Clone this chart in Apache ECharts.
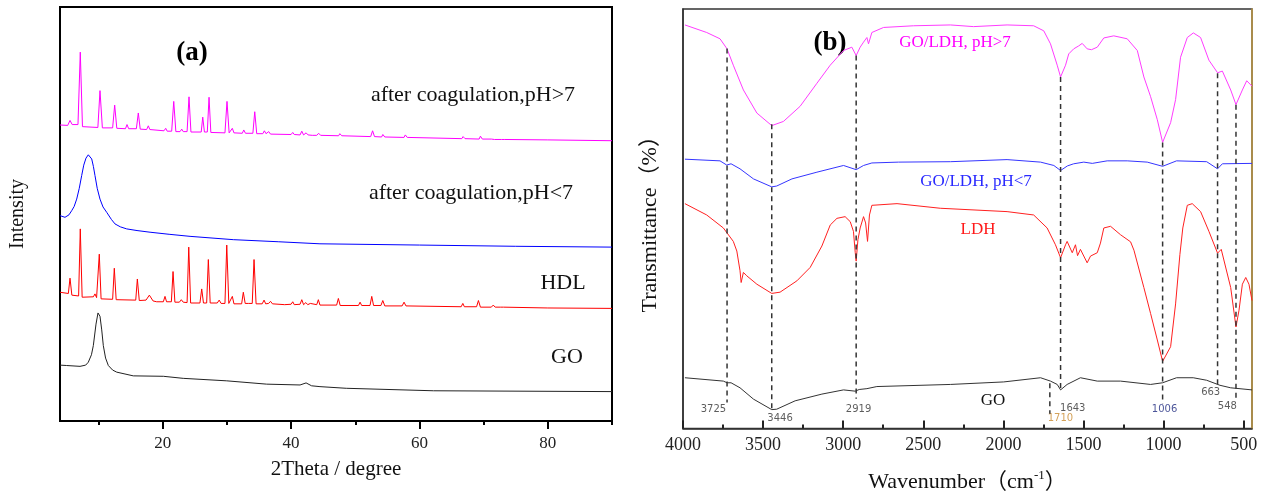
<!DOCTYPE html>
<html>
<head>
<meta charset="utf-8">
<script src="https://cdn.jsdelivr.net/npm/echarts@6.0.0/dist/echarts.min.js"></script>
<style>
  html, body { margin: 0; padding: 0; background: #fff; }
  #chart { width: 1268px; height: 498px; }
</style>
</head>
<body>
<div id="chart"></div>
<script>
// (a) XRD patterns: [2theta, intensity (arbitrary, stacked)]
const xrdPhHigh = [
  [4.0, 71.5], [5.2, 71.4], [5.56, 72.6], [5.9, 71.6], [6.8, 71.6], [7.16, 89.1], [7.5, 71.1],
  [9.9, 70.9], [10.23, 79.8], [10.6, 70.8], [12.2, 70.8], [12.52, 76.3], [12.85, 70.7],
  [14.2, 70.6], [14.44, 71.6], [14.7, 70.6], [15.9, 70.6], [16.2, 74.4], [16.5, 70.5],
  [17.5, 70.4], [17.76, 71.3], [18.0, 70.4], [20.2, 70.1], [20.47, 70.7], [20.7, 70.0],
  [21.4, 70.0], [21.72, 77.2], [22.05, 69.9], [22.7, 69.9], [22.97, 70.5], [23.2, 69.9],
  [23.8, 69.9], [24.1, 78.3], [24.4, 69.8], [26.0, 69.8], [26.24, 73.4], [26.5, 69.8],
  [26.95, 69.8], [27.22, 78.2], [27.5, 69.7], [29.7, 69.6], [30.02, 77.2], [30.35, 69.6],
  [30.6, 69.6], [30.85, 70.7], [31.1, 69.6], [32.4, 69.5], [32.63, 70.3], [32.9, 69.5],
  [34.05, 69.5], [34.34, 74.7], [34.65, 69.4], [35.6, 69.4], [35.84, 70.1], [36.1, 69.4],
  [36.3, 69.4], [36.52, 69.9], [36.8, 69.3], [40.0, 69.2], [40.26, 69.7], [40.5, 69.2],
  [41.4, 69.1], [41.67, 70.0], [41.95, 69.1], [42.34, 69.6], [42.65, 69.1], [42.96, 69.5],
  [43.3, 69.0], [44.0, 69.0], [44.3, 69.5], [44.6, 69.0], [47.4, 68.9], [47.6, 69.4],
  [47.9, 68.9], [52.4, 68.7], [52.7, 70.1], [53.0, 68.7], [54.1, 68.6], [54.3, 69.2],
  [54.6, 68.6], [57.6, 68.5], [57.8, 69.1], [58.1, 68.5], [66.6, 68.2], [66.8, 68.7],
  [67.1, 68.2], [69.3, 68.1], [69.5, 68.8], [69.8, 68.1], [71.2, 68.1], [71.4, 68.4],
  [71.7, 68.0], [72.8, 68.0], [73.0, 68.3], [73.3, 68.0], [80, 67.9], [90, 67.7]
];
const xrdPhLow = [
  [4.0, 49.6], [4.78, 49.2], [5.4, 49.8], [5.82, 50.8], [6.2, 51.8], [6.6, 53.6], [7.0, 56.2],
  [7.38, 59.3], [7.7, 61.8], [8.05, 63.5], [8.41, 64.3], [8.7, 63.9], [8.94, 63.3], [9.2, 61.5],
  [9.45, 59.3], [9.8, 56.2], [10.23, 53.6], [10.7, 51.7], [11.28, 50.4], [12.0, 48.7],
  [12.57, 47.6], [13.4, 46.9], [14.39, 46.4], [16, 46.0], [18.03, 45.6], [21, 45.1],
  [24.26, 44.6], [31.0, 43.8], [38, 43.3], [44.5, 42.8], [60, 42.5], [75, 42.2], [90, 42.0]
];
const xrdHdl = [
  [4.0, 31.1], [5.3, 30.8], [5.56, 34.5], [5.85, 30.4], [6.07, 30.3], [6.9, 30.2], [7.16, 46.4],
  [7.45, 29.9], [7.63, 29.9], [9.2, 30.0], [9.45, 30.7], [9.7, 29.8], [9.85, 29.6], [10.12, 40.3],
  [10.4, 29.5], [12.2, 29.4], [12.46, 36.9], [12.75, 29.3], [15.8, 29.2], [16.05, 34.3],
  [16.35, 29.1], [17.4, 29.2], [17.92, 30.4], [18.5, 29.0], [19.07, 28.8], [20.1, 28.8],
  [20.36, 30.1], [20.6, 28.8], [21.35, 28.8], [21.61, 36.1], [21.9, 28.7], [22.6, 28.7],
  [22.9, 29.3], [23.2, 28.7], [23.8, 28.6], [24.06, 42.0], [24.35, 28.5], [25.8, 28.5],
  [26.08, 31.9], [26.35, 28.5], [26.85, 28.5], [27.11, 39.0], [27.4, 28.5], [28.5, 28.5],
  [28.8, 29.2], [29.1, 28.4], [29.7, 28.4], [29.98, 42.5], [30.3, 28.4], [30.6, 28.4],
  [30.85, 30.1], [31.1, 28.3], [32.3, 28.3], [32.56, 31.1], [32.85, 28.4], [33.1, 28.8],
  [33.4, 28.4], [33.95, 28.4], [34.23, 39.0], [34.55, 28.3], [35.5, 28.3], [35.79, 29.2],
  [36.05, 28.3], [36.5, 28.4], [36.8, 28.9], [37.1, 28.3], [39.0, 28.1], [40.0, 28.2],
  [40.26, 28.8], [40.5, 28.1], [41.4, 28.2], [41.67, 29.3], [41.95, 28.1], [42.3, 28.6],
  [42.6, 28.1], [43.0, 28.4], [43.3, 28.1], [44.0, 28.1], [44.25, 29.3], [44.5, 28.0],
  [47.1, 28.0], [47.37, 29.6], [47.65, 27.9], [50.5, 27.9], [50.75, 28.7], [51.0, 27.9],
  [52.3, 27.9], [52.57, 30.1], [52.85, 27.9], [54.0, 27.9], [54.29, 29.1], [54.6, 27.8],
  [57.3, 27.8], [57.6, 28.7], [57.9, 27.8], [66.5, 27.6], [66.76, 28.4], [67.0, 27.6],
  [68.9, 27.6], [69.19, 29.1], [69.5, 27.5], [71.2, 27.5], [71.5, 28.0], [71.8, 27.5],
  [72.6, 27.5], [72.84, 27.9], [73.1, 27.5], [80, 27.3], [90, 27.2]
];
const xrdGo = [
  [4.0, 13.5], [5.04, 13.4], [7.12, 13.2], [8.0, 13.5], [8.41, 14.2], [8.9, 16.0], [9.19, 18.2],
  [9.61, 23.4], [9.92, 26.1], [10.23, 25.3], [10.5, 22.0], [10.75, 18.2], [11.1, 15.2],
  [11.53, 13.4], [12.2, 12.3], [12.84, 11.8], [15.42, 10.9], [20.1, 10.8], [23.2, 10.3],
  [29.98, 9.7], [36.2, 8.9], [41.4, 8.7], [42.34, 9.2], [43.2, 8.5], [44.5, 8.3], [48.6, 7.9],
  [62.2, 7.3], [90, 7.1]
];
const xrdMajorTicks = [20, 40, 60, 80];
const xrdMinorTicks = [10, 30, 50, 70, 90];

// (b) FTIR spectra: [wavenumber, transmittance (arbitrary, stacked)]
const irPhHigh = [
  [3988, 96.2], [3852, 94.4], [3769, 92.9], [3725, 90.5], [3686, 86.6], [3623, 80.7],
  [3539, 75.2], [3446, 72.2], [3373, 73.2], [3269, 76.8], [3164, 82.3], [3081, 86.6],
  [2998, 90.1], [2946, 90.9], [2919, 88.9], [2894, 90.9], [2873, 92.1], [2852, 93.2],
  [2842, 91.7], [2821, 94.4], [2748, 95.6], [2561, 96.0], [2331, 96.2], [2186, 95.8],
  [1977, 96.2], [1811, 96.0], [1748, 94.8], [1706, 91.7], [1664, 86.6], [1643, 83.8],
  [1612, 86.6], [1592, 89.3], [1561, 90.5], [1530, 91.2], [1508, 91.8], [1477, 90.5],
  [1450, 90.3], [1414, 90.9], [1373, 93.1], [1311, 93.6], [1227, 92.9], [1164, 90.1],
  [1123, 83.8], [1081, 79.1], [1039, 73.6], [1006, 68.2], [956, 72.9], [925, 78.4],
  [894, 88.5], [852, 93.2], [814, 94.3], [769, 93.2], [717, 87.8], [663, 84.8], [633, 85.2],
  [581, 80.7], [548, 77.2], [508, 80.7], [481, 82.9], [448, 81.6]
];
const irPhLow = [
  [3988, 64.2], [3769, 63.8], [3727, 62.8], [3700, 63.1], [3644, 61.9], [3560, 59.5],
  [3446, 57.6], [3415, 57.8], [3320, 59.5], [3164, 61.1], [2998, 62.7], [2919, 61.7],
  [2873, 62.7], [2821, 63.3], [2654, 63.5], [2331, 63.6], [1977, 64.1], [1768, 63.5],
  [1685, 62.7], [1643, 61.5], [1600, 62.6], [1561, 63.1], [1498, 63.5], [1445, 63.2],
  [1352, 63.8], [1227, 63.8], [1102, 63.5], [1006, 62.5], [919, 63.8], [731, 63.6],
  [663, 61.9], [633, 63.1], [448, 63.2]
];
const irLdh = [
  [3988, 53.6], [3852, 50.9], [3748, 47.8], [3686, 44.6], [3664, 42.3], [3644, 37.6],
  [3637, 34.8], [3623, 37.2], [3602, 36.4], [3539, 34.4], [3446, 32.2], [3394, 32.5],
  [3289, 35.2], [3206, 38.4], [3133, 43.5], [3081, 48.5], [3039, 50.1], [2988, 50.5],
  [2956, 49.3], [2936, 47.0], [2925, 42.0], [2919, 39.9], [2908, 45.0], [2894, 47.8],
  [2873, 50.5], [2860, 49.0], [2848, 44.6], [2836, 50.9], [2821, 53.2], [2664, 53.6],
  [2394, 52.5], [1977, 51.7], [1811, 50.9], [1727, 47.8], [1675, 43.8], [1643, 40.7],
  [1612, 43.8], [1602, 44.6], [1570, 41.9], [1550, 43.8], [1537, 41.2], [1519, 42.7],
  [1477, 39.5], [1456, 41.1], [1414, 41.9], [1394, 44.2], [1373, 47.8], [1331, 48.2],
  [1269, 46.2], [1206, 44.5], [1185, 42.5], [1123, 33.6], [1081, 27.4], [1039, 21.1],
  [1006, 16.0], [956, 19.5], [925, 29.7], [898, 41.5], [880, 47.8], [852, 53.2], [821, 53.6],
  [769, 51.7], [717, 47.0], [663, 41.8], [640, 42.7], [581, 33.6], [548, 24.2], [529, 28.2],
  [508, 34.4], [487, 36.0], [467, 34.4], [448, 30.5]
];
const irGo = [
  [3988, 12.1], [3748, 11.3], [3725, 10.9], [3700, 10.9], [3644, 9.7], [3560, 7.0],
  [3446, 4.5], [3415, 4.6], [3300, 6.6], [3133, 8.2], [2998, 9.2], [2925, 8.9], [2919, 8.5],
  [2900, 9.3], [2852, 9.5], [2790, 10.0], [2331, 10.5], [1998, 11.1], [1768, 12.1],
  [1706, 11.3], [1664, 10.5], [1643, 9.2], [1602, 10.5], [1519, 12.1], [1414, 11.3],
  [1269, 11.3], [1081, 10.5], [1006, 10.9], [919, 12.1], [815, 12.1], [731, 11.5],
  [648, 10.3], [581, 9.7], [448, 9.2]
];
const irMajorTicks = [4000, 3500, 3000, 2500, 2000, 1500, 1000, 500];
const irMinorTicks = [3750, 3250, 2750, 2250, 1750, 1250, 750];

// assigned bands: dashed guide lines and their labels
const bandWn = [3725, 3446, 2919, 1710, 1643, 1006, 663, 548];
const bandTop = [90.6, 72.5, 88.9, 10.8, 83.8, 68.2, 84.7, 77.2];
const bandBottom = [6.2, 4.2, 7.1, 3.5, 9.4, 5.9, 10.1, 7.1];
const bandLabelWn = [3810, 3394, 2904, 1644, 1567, 994, 706, 602];
const bandLabelY = [4.5, 2.4, 4.6, 2.4, 4.8, 4.5, 8.5, 5.2];
const bandLabelColor = ['#333', '#333', '#333', '#c98a2e', '#333', '#1f2a80', '#333', '#333'];

const SERIF = "'Liberation Serif', 'Noto Sans CJK SC', serif";

function curve(name, data, color, xi, yi) {
  return {
    name: name, type: 'line', data: data, xAxisIndex: xi, yAxisIndex: yi,
    showSymbol: false, symbol: 'none', smooth: false, silent: true,
    lineStyle: { color: color, width: 1 }
  };
}

const series = [
  curve('pH>7', xrdPhHigh, '#ff00ff', 0, 0),
  curve('pH<7', xrdPhLow, '#0000ff', 0, 0),
  curve('HDL', xrdHdl, '#ff0000', 0, 0),
  curve('GO', xrdGo, '#222', 0, 0),
  curve('GO/LDH pH>7', irPhHigh, '#ff3cff', 2, 1),
  curve('GO/LDH pH<7', irPhLow, '#3535ff', 2, 1),
  curve('LDH', irLdh, '#ff2020', 2, 1),
  curve('GO ir', irGo, '#333', 2, 1)
];

bandWn.forEach(function (wn, i) {
  series.push({
    type: 'line', xAxisIndex: 2, yAxisIndex: 1, silent: true,
    showSymbol: false, symbol: 'none',
    data: [[wn, bandTop[i]], [wn, bandBottom[i]]],
    lineStyle: { color: '#333', width: 1.5, type: [5, 4] }
  });
});

series.push({
  type: 'scatter', xAxisIndex: 2, yAxisIndex: 1, silent: true, symbolSize: 0,
  data: bandWn.map(function (wn, i) {
    return {
      name: String(wn), value: [bandLabelWn[i], bandLabelY[i]],
      label: { color: bandLabelColor[i] }
    };
  }),
  label: {
    show: true, position: 'inside', formatter: '{b}',
    fontFamily: 'DejaVu Sans, sans-serif', fontSize: 10
  }
});

function textEl(text, x, y, size, color, bold) {
  return {
    type: 'text', x: x, y: y, silent: true,
    style: {
      text: text, fill: color,
      font: (bold ? 'bold ' : '') + size + 'px ' + SERIF,
      align: 'center', verticalAlign: 'middle',
      textAlign: 'center', textVerticalAlign: 'middle'
    }
  };
}

function plain(v) { return String(v); }

const option = {
  backgroundColor: '#fff',
  animation: false,
  grid: [
    { left: 60, top: 7, right: 656, bottom: 77, show: true, borderColor: '#000', borderWidth: 2 },
    { left: 683, top: 9, right: 16, bottom: 64, show: true, borderColor: '#333', borderWidth: 1.5 }
  ],
  xAxis: [
    {
      type: 'value', gridIndex: 0, min: 4, max: 90, position: 'bottom',
      name: '2Theta / degree', nameLocation: 'middle', nameGap: 38,
      nameTextStyle: { fontFamily: SERIF, fontSize: 21, color: '#111' },
      axisLine: { show: true, lineStyle: { color: '#000', width: 2 } },
      axisTick: { show: true, inside: false, length: 8, customValues: xrdMajorTicks, lineStyle: { color: '#000', width: 2 } },
      axisLabel: { customValues: xrdMajorTicks, formatter: plain, margin: 14, fontFamily: SERIF, fontSize: 17, color: '#222' },
      splitLine: { show: false }
    },
    {
      type: 'value', gridIndex: 0, min: 4, max: 90, position: 'bottom',
      axisLine: { show: false },
      axisTick: { show: true, inside: false, length: 4, customValues: xrdMinorTicks, lineStyle: { color: '#000', width: 2 } },
      axisLabel: { show: false },
      splitLine: { show: false }
    },
    {
      type: 'value', gridIndex: 1, min: 448, max: 4000, inverse: true, position: 'bottom',
      name: 'Wavenumber（cm{sup|-1}）', nameLocation: 'middle', nameGap: 41,
      nameTextStyle: {
        fontFamily: SERIF, fontSize: 22, color: '#111',
        rich: { sup: { fontFamily: SERIF, fontSize: 13, color: '#111', padding: [0, 0, 12, 0] } }
      },
      axisLine: { show: true, lineStyle: { color: '#333', width: 1.5 } },
      axisTick: { show: true, inside: true, length: 8, customValues: irMajorTicks, lineStyle: { color: '#222', width: 2 } },
      axisLabel: { customValues: irMajorTicks, formatter: plain, margin: 8, fontFamily: SERIF, fontSize: 18, color: '#222' },
      splitLine: { show: false }
    },
    {
      type: 'value', gridIndex: 1, min: 448, max: 4000, inverse: true, position: 'bottom',
      axisLine: { show: false },
      axisTick: { show: true, inside: true, length: 4, customValues: irMinorTicks, lineStyle: { color: '#222', width: 2 } },
      axisLabel: { show: false },
      splitLine: { show: false }
    }
  ],
  yAxis: [
    {
      type: 'value', gridIndex: 0, min: 0, max: 100,
      name: 'Intensity', nameLocation: 'middle', nameGap: 32,
      nameTextStyle: { fontFamily: SERIF, fontSize: 20, color: '#111' },
      axisLine: { show: true, lineStyle: { color: '#000', width: 2 } },
      axisTick: { show: false }, axisLabel: { show: false }, splitLine: { show: false }
    },
    {
      type: 'value', gridIndex: 1, min: 0, max: 100,
      name: 'Transmittance（%）', nameLocation: 'middle', nameGap: 22,
      nameTextStyle: { fontFamily: SERIF, fontSize: 22, color: '#111' },
      axisLine: { show: true, lineStyle: { color: '#333', width: 1.5 } },
      axisTick: { show: false }, axisLabel: { show: false }, splitLine: { show: false }
    },
    {
      type: 'value', gridIndex: 1, min: 0, max: 100, position: 'right',
      axisLine: { show: true, lineStyle: { color: '#c09a45', width: 1.5 } },
      axisTick: { show: false }, axisLabel: { show: false }, splitLine: { show: false }
    }
  ],
  graphic: [
    textEl('(a)', 192, 53, 27, '#000', true),
    textEl('after coagulation,pH>7', 473, 95, 22, '#111', false),
    textEl('after coagulation,pH<7', 471, 193, 22, '#111', false),
    textEl('HDL', 563, 283, 22, '#111', false),
    textEl('GO', 567, 357, 22, '#111', false),
    textEl('(b)', 830, 43, 27, '#000', true),
    textEl('GO/LDH, pH>7', 955, 43, 17, '#ff00ff', false),
    textEl('GO/LDH, pH<7', 976, 182, 17, '#2a2aff', false),
    textEl('LDH', 978, 230, 17, '#ff1a1a', false),
    textEl('GO', 993, 401, 17, '#111', false)
  ],
  series: series
};

const chart = echarts.init(document.getElementById('chart'));
chart.setOption(option);
</script>
</body>
</html>
